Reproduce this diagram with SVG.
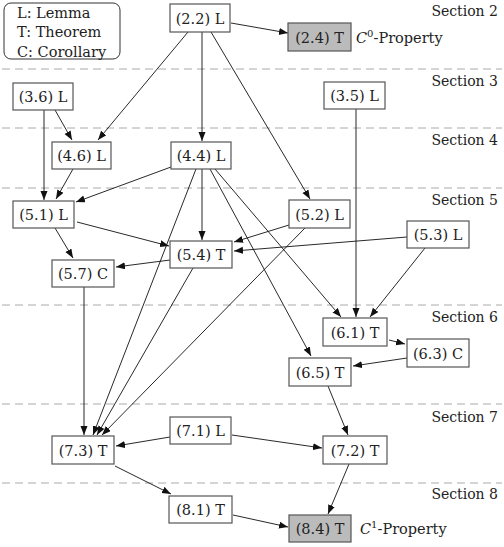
<svg xmlns="http://www.w3.org/2000/svg" width="504" height="547" viewBox="0 0 504 547">
<style>
text{font-family:"DejaVu Serif",serif;font-size:14.5px;fill:#222}
.box{fill:#fff;stroke:#555;stroke-width:1.2}
.gray{fill:#bbb}
.sec{text-anchor:end;font-size:14px}
.lbl{text-anchor:middle}
.sep{stroke:#aaa;stroke-width:1;stroke-dasharray:8 5}
.e line{stroke:#111;stroke-width:0.9;marker-end:url(#ah)}
</style>
<defs>
<marker id="ah" markerUnits="userSpaceOnUse" markerWidth="10" markerHeight="8" refX="9" refY="3.5" orient="auto">
<path d="M0,0 L9,3.5 L0,7 z" fill="#111"/>
</marker>
</defs>
<g id="separators">
<line class="sep" x1="2" y1="69" x2="502" y2="69"/>
<line class="sep" x1="2" y1="128" x2="502" y2="128"/>
<line class="sep" x1="2" y1="188" x2="502" y2="188"/>
<line class="sep" x1="2" y1="305" x2="502" y2="305"/>
<line class="sep" x1="2" y1="404" x2="502" y2="404"/>
<line class="sep" x1="2" y1="483" x2="502" y2="483"/>
</g>
<g id="sections">
<text class="sec" x="498" y="16">Section 2</text>
<text class="sec" x="498" y="86">Section 3</text>
<text class="sec" x="498" y="145">Section 4</text>
<text class="sec" x="498" y="205">Section 5</text>
<text class="sec" x="498" y="322">Section 6</text>
<text class="sec" x="498" y="422">Section 7</text>
<text class="sec" x="498" y="499">Section 8</text>
</g>
<g id="legend">
<rect x="4" y="3" width="116" height="56" rx="7" fill="#fff" stroke="#333" stroke-width="1"/>
<text x="17" y="17.5">L: Lemma</text>
<text x="17" y="37">T: Theorem</text>
<text x="17" y="56.5">C: Corollary</text>
</g>
<g id="connectors" class="e">
<line x1="231" y1="23" x2="288" y2="33"/>
<line x1="188" y1="32" x2="98" y2="140"/>
<line x1="202" y1="32" x2="202" y2="141"/>
<line x1="211" y1="32" x2="310" y2="199"/>
<line x1="55" y1="110" x2="72" y2="140"/>
<line x1="44" y1="110" x2="44" y2="200"/>
<line x1="356" y1="109" x2="356" y2="317"/>
<line x1="73" y1="169" x2="56" y2="199"/>
<line x1="171" y1="167" x2="76" y2="202"/>
<line x1="202" y1="169" x2="202" y2="240"/>
<line x1="196" y1="169" x2="93" y2="435"/>
<line x1="210" y1="169" x2="311" y2="356"/>
<line x1="215" y1="169" x2="341" y2="317"/>
<line x1="77" y1="222" x2="169" y2="246"/>
<line x1="55" y1="228" x2="73" y2="258"/>
<line x1="289" y1="225" x2="234" y2="242"/>
<line x1="407" y1="237" x2="234" y2="251"/>
<line x1="170" y1="260" x2="116" y2="267"/>
<line x1="193" y1="268" x2="97" y2="435"/>
<line x1="305" y1="228" x2="102" y2="435"/>
<line x1="425" y1="248" x2="370" y2="317"/>
<line x1="84" y1="287" x2="84" y2="435"/>
<line x1="389" y1="340" x2="405" y2="344"/>
<line x1="407" y1="358" x2="353" y2="366"/>
<line x1="328" y1="386" x2="348" y2="435"/>
<line x1="170" y1="437" x2="116" y2="446"/>
<line x1="232" y1="435" x2="322" y2="448"/>
<line x1="115" y1="466" x2="171" y2="494"/>
<line x1="349" y1="464" x2="328" y2="514"/>
<line x1="233" y1="515" x2="288" y2="527"/>
</g>
<g id="n22"><rect class="box" x="170" y="4" width="60" height="28"/><text class="lbl" x="200" y="23.5">(2.2) L</text></g>
<g id="n24"><rect class="box gray" x="288" y="23" width="63" height="28"/><text class="lbl" x="319.5" y="42.5">(2.4) T</text><text x="356" y="43"><tspan font-style="italic">C</tspan><tspan font-size="10" dy="-6">0</tspan><tspan dy="6">-Property</tspan></text></g>
<g id="n36"><rect class="box" x="13" y="83" width="60" height="27"/><text class="lbl" x="43" y="102">(3.6) L</text></g>
<g id="n35"><rect class="box" x="324" y="82" width="61" height="27"/><text class="lbl" x="354.5" y="101">(3.5) L</text></g>
<g id="n46"><rect class="box" x="52" y="142" width="59" height="27"/><text class="lbl" x="81.5" y="161">(4.6) L</text></g>
<g id="n44"><rect class="box" x="171" y="142" width="60" height="27"/><text class="lbl" x="201" y="161">(4.4) L</text></g>
<g id="n51"><rect class="box" x="13" y="201" width="61" height="27"/><text class="lbl" x="43.5" y="220">(5.1) L</text></g>
<g id="n52"><rect class="box" x="289" y="200" width="61" height="28"/><text class="lbl" x="319.5" y="219.5">(5.2) L</text></g>
<g id="n53"><rect class="box" x="407" y="221" width="62" height="27"/><text class="lbl" x="438" y="240">(5.3) L</text></g>
<g id="n54"><rect class="box" x="170" y="241" width="62" height="27"/><text class="lbl" x="201" y="260">(5.4) T</text></g>
<g id="n57"><rect class="box" x="52" y="260" width="62" height="27"/><text class="lbl" x="83" y="279">(5.7) C</text></g>
<g id="n61"><rect class="box" x="323" y="318" width="64" height="28"/><text class="lbl" x="355" y="337.5">(6.1) T</text></g>
<g id="n63"><rect class="box" x="407" y="339" width="62" height="28"/><text class="lbl" x="438" y="358.5">(6.3) C</text></g>
<g id="n65"><rect class="box" x="289" y="358" width="62" height="28"/><text class="lbl" x="320" y="377.5">(6.5) T</text></g>
<g id="n71"><rect class="box" x="170" y="417" width="61" height="27"/><text class="lbl" x="200.5" y="436">(7.1) L</text></g>
<g id="n72"><rect class="box" x="323" y="436" width="64" height="28"/><text class="lbl" x="355" y="455.5">(7.2) T</text></g>
<g id="n73"><rect class="box" x="52" y="436" width="62" height="28"/><text class="lbl" x="83" y="455.5">(7.3) T</text></g>
<g id="n81"><rect class="box" x="169" y="496" width="63" height="27"/><text class="lbl" x="200.5" y="515">(8.1) T</text></g>
<g id="n84"><rect class="box gray" x="289" y="515" width="62" height="27"/><text class="lbl" x="320" y="534">(8.4) T</text><text x="360" y="534"><tspan font-style="italic">C</tspan><tspan font-size="10" dy="-6">1</tspan><tspan dy="6">-Property</tspan></text></g>
</svg>
